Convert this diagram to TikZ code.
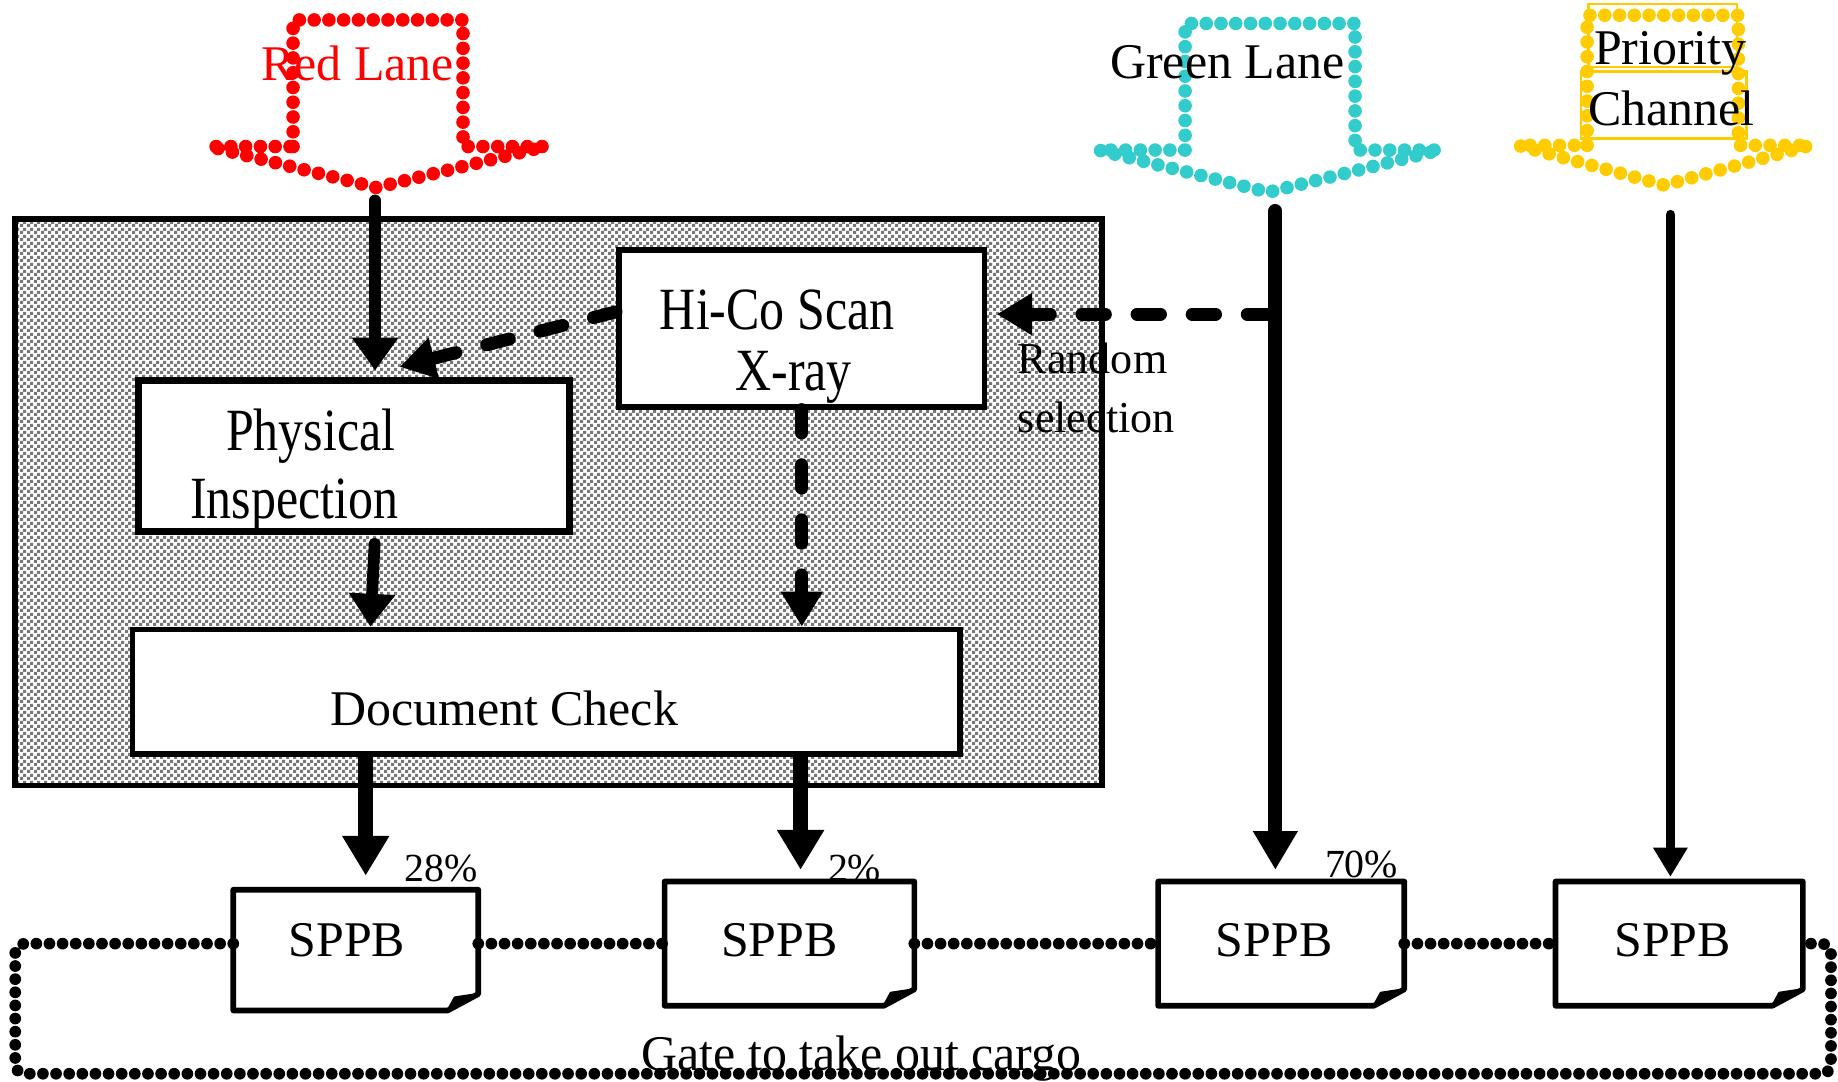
\documentclass[tikz,border=0pt]{standalone}
\usepackage{fontspec}
\setmainfont{Liberation Serif}
\usetikzlibrary{arrows.meta,patterns,calc}
\pgfdeclarepatternformonly{finecheck}{\pgfpointorigin}{\pgfqpoint{2.8pt}{2.8pt}}{\pgfqpoint{2.8pt}{2.8pt}}{%
  \pgfpathrectangle{\pgfpointorigin}{\pgfqpoint{1.4pt}{1.4pt}}%
  \pgfpathrectangle{\pgfqpoint{1.4pt}{1.4pt}}{\pgfqpoint{1.4pt}{1.4pt}}%
  \pgfusepath{fill}}
\definecolor{lanered}{HTML}{FF0000}
\definecolor{lanecyan}{HTML}{33CCCC}
\definecolor{laneyellow}{HTML}{FFCC00}
\definecolor{chkgray}{HTML}{777777}
\tikzset{
  lbl/.style={inner sep=0pt, font=\fontsize{21.3pt}{25pt}\selectfont},
  smalllbl/.style={inner sep=0pt, font=\fontsize{18.8pt}{22pt}\selectfont},
  pctlbl/.style={inner sep=0pt, font=\fontsize{17pt}{20pt}\selectfont},
  zonebox/.style={draw, line width=2.4pt, inner sep=0pt, preaction={fill=white}, pattern=finecheck, pattern color=chkgray},
  procbox/.style={draw, fill=white, line width=2.4pt, inner sep=0pt},
  sppbbox/.style={draw=none, inner sep=0pt, outer sep=0pt},
  boxline/.style={line width=2.4pt, line join=round},
  lanedots/.style={line width=5.8pt, dash pattern=on 0pt off 6.3pt, line cap=round},
  gatedots/.style={line width=5pt, dash pattern=on 0pt off 5.6pt, line cap=round},
  solidarrow/.style={line width=5pt, line cap=round, -{Triangle[width=19pt,length=14pt]}},
  bigarrow/.style={line width=6.5pt, -{Triangle[width=19pt,length=17pt]}},
  greenarrow/.style={line width=6pt, line cap=round, -{Triangle[width=18pt,length=16.5pt]}},
  prioarrow/.style={line width=4pt, line cap=round, -{Triangle[width=14pt,length=12.5pt]}},
  dasharrow/.style={line width=5.5pt, line cap=round, dash pattern=on 10pt off 13.5pt, -{Triangle[width=17pt,length=15pt]}},
}
\begin{document}
\begin{tikzpicture}[x=0.5pt,y=-0.5pt]
\useasboundingbox (0,0) rectangle (1568,923);

% shaded inspection zone
\node[zonebox, minimum width=463.5pt, minimum height=241.5pt] (zone) at (476.5,428.5) {};

% process boxes
\node[procbox, minimum width=156pt, minimum height=67pt] (hico) at (684,280) {};
\node[procbox, line width=3pt, minimum width=184pt, minimum height=64pt] (phys) at (302,389) {};
\node[procbox, minimum width=353pt, minimum height=53pt] (doc) at (466,590) {};

\node[lbl, anchor=base] (hicoA) at (663,281) {\scalebox{1}[1.2]{Hi-Co Scan}};
\node[lbl, anchor=base] (hicoB) at (677,333) {\scalebox{1}[1.2]{X-ray}};
\node[lbl, anchor=base] (physA) at (265,384) {\scalebox{1}[1.2]{Physical}};
\node[lbl, anchor=base] (physB) at (251,442) {\scalebox{1}[1.2]{Inspection}};
\node[lbl, anchor=base] (docA) at (430,619) {Document Check};

% SPPB documents
\node[sppbbox, minimum width=104.5pt, minimum height=51.5pt] (s1) at (303.5,810.5) {};
\node[sppbbox, minimum width=106.5pt, minimum height=53pt] (s2) at (673.5,805) {};
\node[sppbbox, minimum width=105pt, minimum height=53pt] (s3) at (1093,805) {};
\node[sppbbox, minimum width=105.5pt, minimum height=53pt] (s4) at (1432.5,805) {};
\foreach \n in {s1,s2,s3,s4}{
  \draw[boxline] (\n.north west) -- (\n.north east) -- ([yshift=7pt]\n.south east)
     -- ([xshift=-13pt]\n.south east) -- (\n.south west) -- cycle;
  \filldraw[line width=1pt, line join=round] ([xshift=-13pt]\n.south east)
     -- ([xshift=-10pt,yshift=5.5pt]\n.south east) -- ([yshift=7pt]\n.south east) -- cycle;
}
\node[lbl, anchor=base] (s1t) at (296,816) {SPPB};
\node[lbl, anchor=base] (s2t) at (665,816) {SPPB};
\node[lbl, anchor=base] (s3t) at (1087,816) {SPPB};
\node[lbl, anchor=base] (s4t) at (1427,816) {SPPB};

% lane arrows
\draw[lanedots, lanered] (250,125) -- (250,17) -- (395,17) -- (395,125) -- (465,125) -- (321,160) -- (179,125) -- cycle;
\draw[lanedots, lanecyan] (1011,128) -- (1011,20) -- (1156,20) -- (1156,128) -- (1228,128) -- (1082,164) -- (937,128) -- cycle;
\draw[laneyellow, line width=1pt] (1355,3.4) rectangle (1482,57);
\draw[laneyellow, line width=1pt] (1349,61) rectangle (1490,118);
\draw[lanedots, laneyellow] (1354,124) -- (1354,13) -- (1483,13) -- (1483,124) -- (1544,124) -- (1420,158) -- (1295,124) -- cycle;

\node[lbl, anchor=base, text=lanered] (redlbl) at (305,69) {Red Lane};
\node[lbl, anchor=base] (greenlbl) at (1047,67) {Green Lane};
\node[lbl, anchor=base] (prioA) at (1425,55) {Priority};
\node[lbl, anchor=base] (prioB) at (1426,107) {Channel};

% connector endpoints
\coordinate (redtip) at (320,171);
\coordinate (gtop) at (1088,180);
\coordinate (ptop) at (1425,183);
\coordinate (gsel) at (1084,268);
\coordinate (gy) at (0,805);
\coordinate (gl) at (13,916);
\coordinate (gr) at (1562,916);
\coordinate (d1) at ($(doc.south)+(-154,0)$);
\coordinate (d2) at ($(doc.south)+(217,0)$);

% connectors
\draw[solidarrow, shorten >=3pt] (redtip) -- (redtip |- phys.north);
\draw[dasharrow] ([yshift=7pt]hico.west) -- ($(phys.north)+(39,-9)$);
\draw[dasharrow, shorten >=4pt] (gsel) -- (gsel -| hico.east);
\draw[dasharrow] (hico.south) -- (hico.south |- doc.north);
\draw[solidarrow, shorten <=4pt] ($(phys.south)+(18,0)$) -- ($(doc.north)+(-150,0)$);
\draw[bigarrow, shorten >=6pt] (d1) -- (d1 |- s1.north);
\draw[bigarrow, shorten >=5pt] (d2) -- (d2 |- s2.north);
\draw[greenarrow, shorten >=5pt] (gtop) -- (gtop |- s3.north);
\draw[prioarrow, shorten >=2pt] (ptop) -- (ptop |- s4.north);

% gate loop
\draw[gatedots, rounded corners=4pt] (s1.west |- gy) -- (13,805) -- (gl) -- (gr) -- (1562,805) -- (s4.east |- gy);
\draw[gatedots] (s1.east |- gy) -- (s2.west |- gy);
\draw[gatedots] (s2.east |- gy) -- (s3.west |- gy);
\draw[gatedots] (s3.east |- gy) -- (s4.west |- gy);

% labels
\node[smalllbl, anchor=base west] (rnd1) at (868,319) {Random};
\node[smalllbl, anchor=base west] (rnd2) at (868,369) {selection};
\node[pctlbl, anchor=base west] (p28) at (345,752) {28\%};
\node[pctlbl, anchor=base west] (p2) at (706,752) {2\%};
\node[pctlbl, anchor=base west] (p70) at (1130,749) {70\%};
\node[lbl, anchor=base] (gate) at (735,913) {Gate to take out cargo};
\end{tikzpicture}
\end{document}
